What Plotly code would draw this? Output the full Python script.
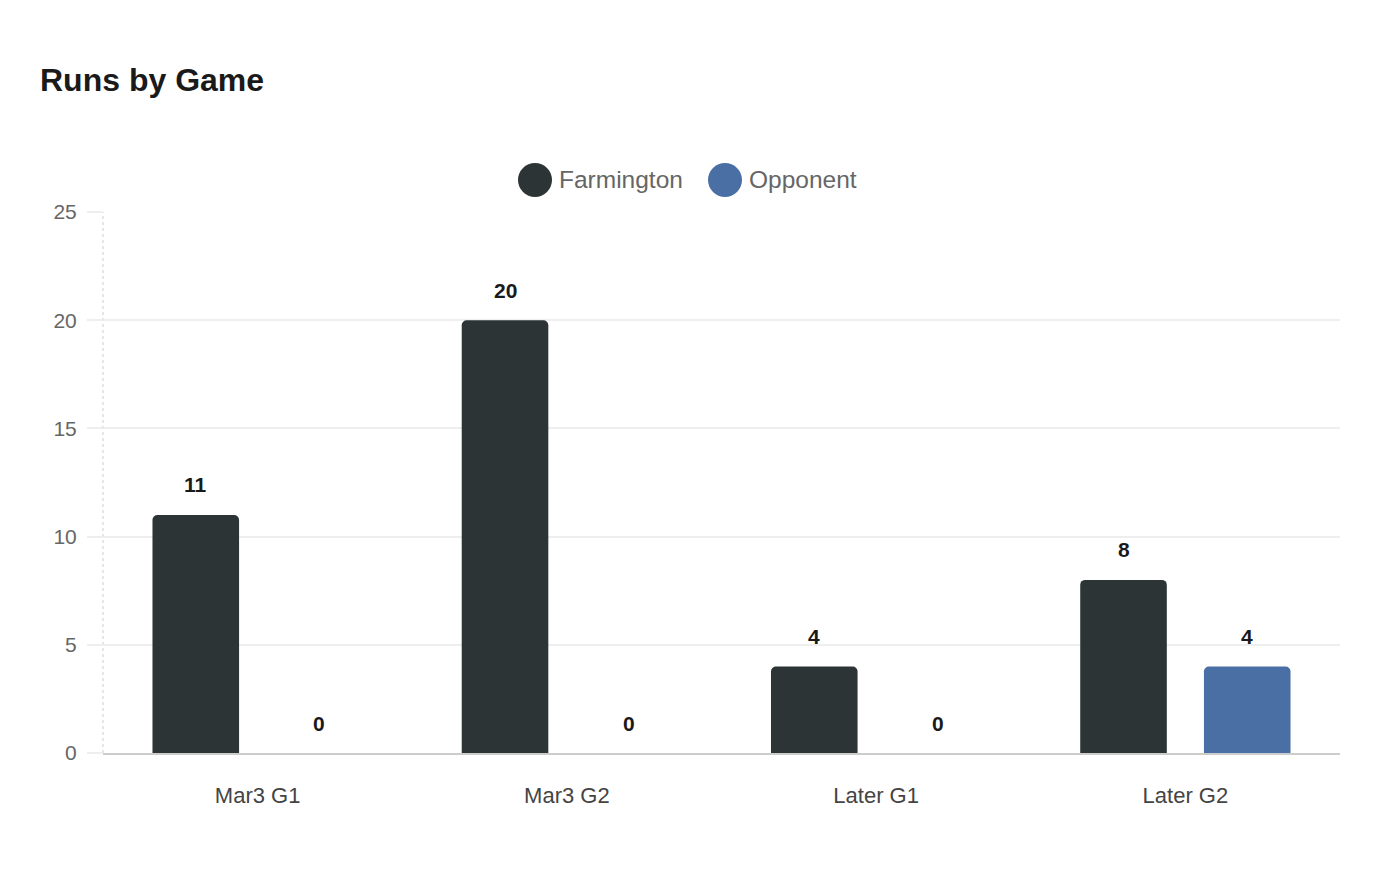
import plotly.graph_objects as go

categories = ["Mar3 G1", "Mar3 G2", "Later G1", "Later G2"]
farmington = [11, 20, 4, 8]
opponent = [0, 0, 0, 4]
series_names = ["Farmington", "Opponent"]
colors = ["#2d3436", "#4a6fa5"]
y_ticks = [0, 5, 10, 15, 20, 25]

W, H = 1400, 880
ML, MR, MT, MB = 95, 68, 204, 135
BARGAP = 0.2
FONT = "Liberation Sans, Arial, sans-serif"

fig = go.Figure()
for name, vals, col in zip(series_names, [farmington, opponent], colors):
    fig.add_trace(go.Bar(
        x=categories, y=vals, name=name, marker=dict(color=col, line=dict(width=0)),
        showlegend=False, hoverinfo="x+y+name",
    ))

# value labels above bars
half = (1 - BARGAP) / 4
for ti, vals in enumerate([farmington, opponent]):
    off = -half if ti == 0 else half
    for i, v in enumerate(vals):
        fig.add_annotation(
            x=i + off, y=v, xref="x", yref="y", text=f"<b>{v}</b>",
            showarrow=False, yshift=30, yanchor="middle",
            font=dict(family=FONT, size=21, color="#1a1a1a"),
        )

# custom legend with large circles
pw = W - ML - MR
ph = H - MT - MB
legend_items = [(series_names[0], colors[0], 527), (series_names[1], colors[1], 717)]
for name, col, cx in legend_items:
    xa = (cx - ML) / pw
    ya = (H - MB - 172) / ph
    fig.add_shape(type="circle", xref="paper", yref="paper", xsizemode="pixel", ysizemode="pixel",
                  xanchor=xa, yanchor=ya, x0=-17, x1=17, y0=-17, y1=17,
                  fillcolor=col, line=dict(width=0))
    fig.add_annotation(x=(cx + 22 - ML) / pw, y=ya, xref="paper", yref="paper", text=name,
                       showarrow=False, xanchor="left", yanchor="middle",
                       font=dict(family=FONT, size=24.5, color="#666666"))

# dotted y axis line
fig.add_shape(type="line", xref="paper", yref="paper", x0=0, x1=0, y0=0, y1=1,
              line=dict(color="#cccccc", width=1, dash="dot"), layer="below")

fig.update_layout(
    width=W, height=H,
    margin=dict(l=ML, r=MR, t=MT, b=MB),
    paper_bgcolor="white", plot_bgcolor="white",
    barmode="group", bargap=BARGAP, bargroupgap=0.3, barcornerradius=5,
    title=dict(text="<b>Runs by Game</b>", x=32 / W, xanchor="left", xref="container",
               y=1 - 72 / H, yanchor="middle", yref="container",
               font=dict(family=FONT, size=32, color="#1a1a1a")),
    font=dict(family=FONT),
    showlegend=False,
)
fig.update_yaxes(range=[0, 25], tickvals=y_ticks, showgrid=True, gridcolor="#eeeeee", gridwidth=1.5,
                 ticks="outside", ticklen=15, tickcolor="#eeeeee", tickwidth=1.5,
                 tickfont=dict(size=21, color="#666666"), zeroline=False, showline=False,
                 ticklabelstandoff=6)
fig.update_xaxes(showline=True, linecolor="#cccccc", linewidth=2, ticks="",
                 tickfont=dict(size=22, color="#444444"), ticklabelstandoff=22)

fig.write_html("out.html")
